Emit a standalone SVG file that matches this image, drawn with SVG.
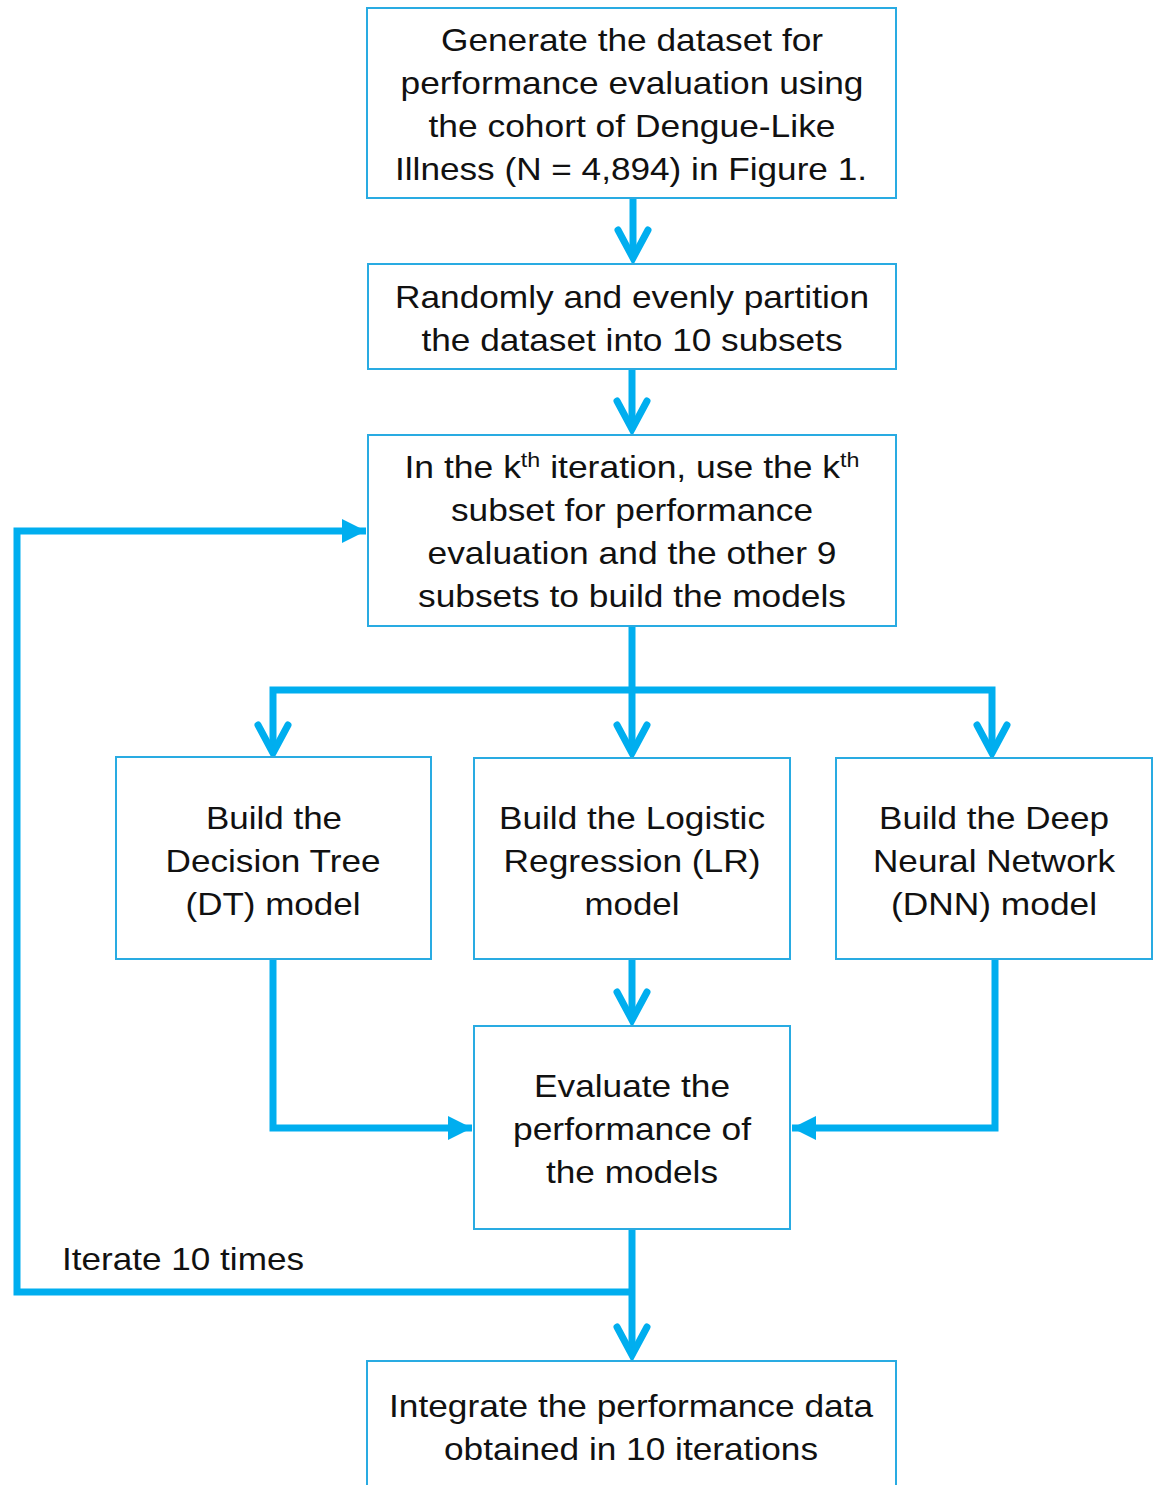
<svg xmlns="http://www.w3.org/2000/svg" width="1156" height="1485" viewBox="0 0 1156 1485">
<style>
.box{fill:#fff;stroke:#29ABE2;stroke-width:2}
.t{font-family:"Liberation Sans",Arial,sans-serif;font-size:32px;fill:#111;text-anchor:middle}
.c{fill:none;stroke:#00AEEF;stroke-width:7}
.sup{font-size:21px}
</style>
<defs>
<marker id="chev" markerUnits="userSpaceOnUse" orient="auto" refX="0" refY="0" markerWidth="60" markerHeight="60" viewBox="-40 -30 60 60" overflow="visible">
<path d="M-28,-15 L0,0 L-28,15" fill="none" stroke="#00AEEF" stroke-width="7" stroke-linecap="round" stroke-linejoin="miter"/>
</marker>
<marker id="tri" markerUnits="userSpaceOnUse" orient="auto" refX="0" refY="0" markerWidth="60" markerHeight="60" viewBox="-40 -30 60 60" overflow="visible">
<path d="M-24,-12 L0,0 L-24,12 Z" fill="#00AEEF"/>
</marker>
</defs>
<rect width="1156" height="1485" fill="#fff"/>
<g id="connectors">
<path class="c" d="M633,198 L633,258" marker-end="url(#chev)"/>
<path class="c" d="M632,369 L632,429" marker-end="url(#chev)"/>
<path class="c" d="M632,626 L632,690"/>
<path class="c" d="M273,753 L273,690 L992,690 L992,753"/>
<path class="c" d="M273,750 L273,753" marker-end="url(#chev)"/>
<path class="c" d="M992,750 L992,753" marker-end="url(#chev)"/>
<path class="c" d="M632,690 L632,753" marker-end="url(#chev)"/>
<path class="c" d="M273,959 L273,1128 L472,1128" marker-end="url(#tri)"/>
<path class="c" d="M632,959 L632,1020" marker-end="url(#chev)"/>
<path class="c" d="M995,959 L995,1128 L792,1128" marker-end="url(#tri)"/>
<path class="c" d="M632,1229 L632,1355" marker-end="url(#chev)"/>
<path class="c" d="M632,1292 L17,1292 L17,531 L366,531" marker-end="url(#tri)"/>
</g>
<g id="n1">
<rect class="box" x="367" y="8" width="529" height="190"/>
<text class="t" x="632" y="51" textLength="382" lengthAdjust="spacingAndGlyphs">Generate the dataset for</text>
<text class="t" x="632" y="94" textLength="463" lengthAdjust="spacingAndGlyphs">performance evaluation using</text>
<text class="t" x="632" y="137" textLength="407" lengthAdjust="spacingAndGlyphs">the cohort of Dengue-Like</text>
<text class="t" x="631" y="180" textLength="472" lengthAdjust="spacingAndGlyphs">Illness (N = 4,894) in Figure 1.</text>
</g>
<g id="n2">
<rect class="box" x="368" y="264" width="528" height="105"/>
<text class="t" x="632" y="308" textLength="474" lengthAdjust="spacingAndGlyphs">Randomly and evenly partition</text>
<text class="t" x="632" y="351" textLength="421" lengthAdjust="spacingAndGlyphs">the dataset into 10 subsets</text>
</g>
<g id="n3">
<rect class="box" x="368" y="435" width="528" height="191"/>
<text class="t" x="632" y="478" textLength="455" lengthAdjust="spacingAndGlyphs">In the k<tspan class="sup" dy="-11">th</tspan><tspan dy="11"> iteration, use the k</tspan><tspan class="sup" dy="-11">th</tspan></text>
<text class="t" x="632" y="521" textLength="362" lengthAdjust="spacingAndGlyphs">subset for performance</text>
<text class="t" x="632" y="564" textLength="409" lengthAdjust="spacingAndGlyphs">evaluation and the other 9</text>
<text class="t" x="632" y="607" textLength="428" lengthAdjust="spacingAndGlyphs">subsets to build the models</text>
</g>
<g id="n4">
<rect class="box" x="116" y="757" width="315" height="202"/>
<text class="t" x="274" y="829" textLength="136" lengthAdjust="spacingAndGlyphs">Build the</text>
<text class="t" x="273" y="872" textLength="215" lengthAdjust="spacingAndGlyphs">Decision Tree</text>
<text class="t" x="273" y="915" textLength="175" lengthAdjust="spacingAndGlyphs">(DT) model</text>
</g>
<g id="n5">
<rect class="box" x="474" y="758" width="316" height="201"/>
<text class="t" x="632" y="829" textLength="266" lengthAdjust="spacingAndGlyphs">Build the Logistic</text>
<text class="t" x="632" y="872" textLength="257" lengthAdjust="spacingAndGlyphs">Regression (LR)</text>
<text class="t" x="632" y="915" textLength="95" lengthAdjust="spacingAndGlyphs">model</text>
</g>
<g id="n6">
<rect class="box" x="836" y="758" width="316" height="201"/>
<text class="t" x="994" y="829" textLength="230" lengthAdjust="spacingAndGlyphs">Build the Deep</text>
<text class="t" x="994" y="872" textLength="242" lengthAdjust="spacingAndGlyphs">Neural Network</text>
<text class="t" x="994" y="915" textLength="206" lengthAdjust="spacingAndGlyphs">(DNN) model</text>
</g>
<g id="n7">
<rect class="box" x="474" y="1026" width="316" height="203"/>
<text class="t" x="632" y="1097" textLength="196" lengthAdjust="spacingAndGlyphs">Evaluate the</text>
<text class="t" x="632" y="1140" textLength="238" lengthAdjust="spacingAndGlyphs">performance of</text>
<text class="t" x="632" y="1183" textLength="172" lengthAdjust="spacingAndGlyphs">the models</text>
</g>
<g id="n8">
<rect class="box" x="367" y="1361" width="529" height="140"/>
<text class="t" x="631" y="1417" textLength="484" lengthAdjust="spacingAndGlyphs">Integrate the performance data</text>
<text class="t" x="631" y="1460" textLength="374" lengthAdjust="spacingAndGlyphs">obtained in 10 iterations</text>
</g>
<g id="label">
<text class="t" x="62" y="1270" style="text-anchor:start" textLength="242" lengthAdjust="spacingAndGlyphs">Iterate 10 times</text>
</g>
</svg>
